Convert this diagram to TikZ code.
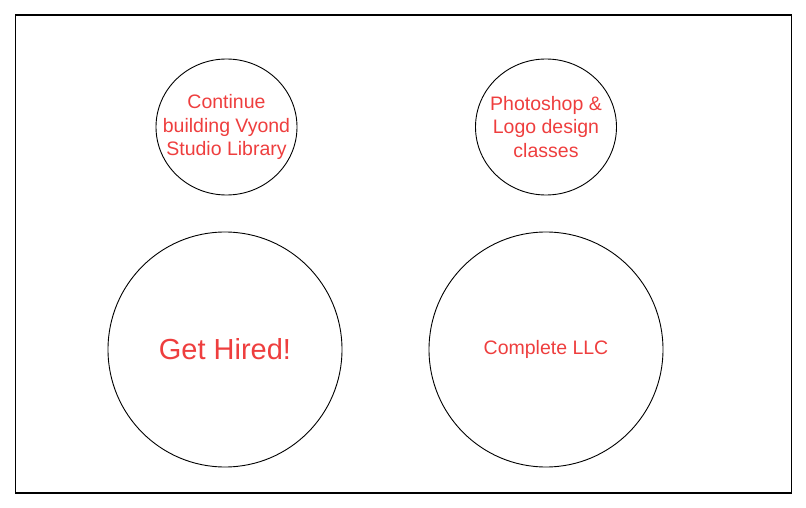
\documentclass[tikz,border=0pt]{standalone}
\usepackage{fontspec}
\setmainfont{Liberation Sans}
\usetikzlibrary{shapes.geometric}
\definecolor{txtred}{RGB}{238,62,62}
\tikzset{
  bubble/.style={draw=black, line width=0.9pt, ellipse, inner sep=0pt},
  small/.style={bubble, minimum width=141pt, minimum height=136pt},
  big/.style={bubble, minimum width=234pt, minimum height=235pt},
  words/.style={text=txtred, align=center, inner sep=0pt},
  smallfont/.style={font=\fontsize{19.5pt}{23.5pt}\selectfont},
}
\begin{document}
\begin{tikzpicture}[x=1pt,y=-1pt]
\useasboundingbox (0,0) rectangle (806,508);
\node[draw=black, line width=1.3pt, minimum width=776pt, minimum height=478pt, inner sep=0pt] (frame) at (403.5,254) {};
\node[small] (vyond) at (226.5,127) {};
\node[small] (photo) at (546,127) {};
\node[big] (hired) at (225,349.5) {};
\node[big] (llc) at (546,349.5) {};
\node[words, smallfont] (vyondtext) at (vyond.center) {Continue\\building Vyond\\Studio Library};
\node[words, smallfont] (phototext) at (photo.center) {Photoshop \&\\Logo design\\classes};
\node[words, font=\fontsize{29pt}{34pt}\selectfont] (hiredtext) at (hired.center) {Get Hired!};
\node[words, smallfont] (llctext) at (llc.center) {Complete LLC};
\end{tikzpicture}
\end{document}
